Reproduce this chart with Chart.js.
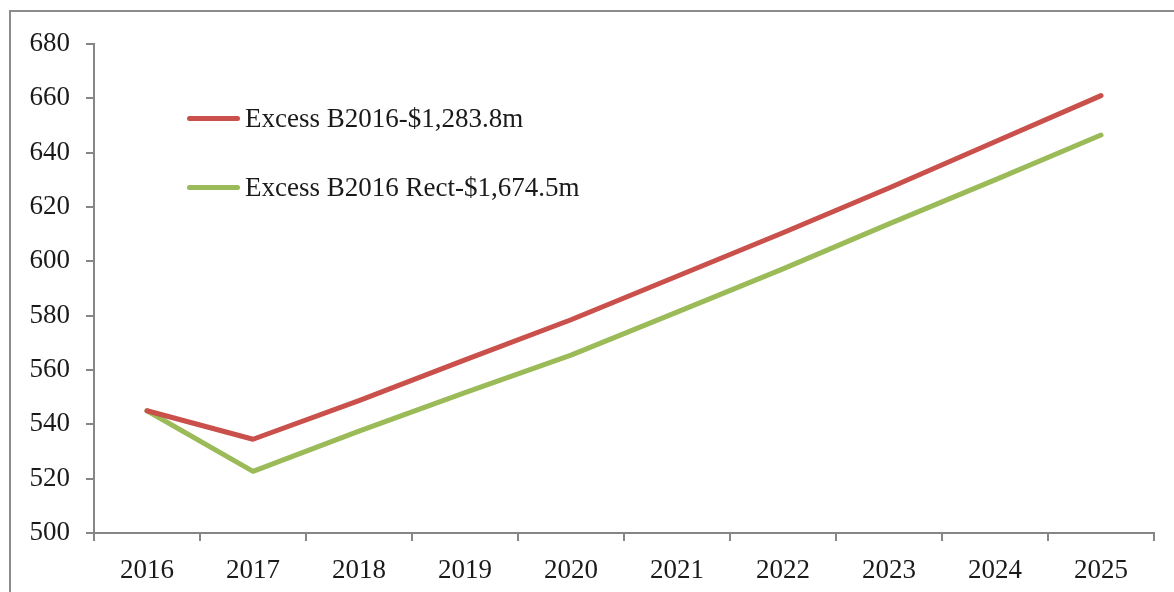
<!DOCTYPE html>
<html>
<head>
<meta charset="utf-8">
<script src="https://cdn.jsdelivr.net/npm/chart.js@4/dist/chart.umd.min.js"></script>
<style>
  html, body { margin:0; padding:0; background:#fff; }
  body { width:1174px; height:592px; position:relative; overflow:hidden; font-family:"Liberation Serif", serif; }
  .frame { position:absolute; left:9px; top:10px; width:1200px; height:620px; border-left:2px solid #8c8c8c; border-top:2px solid #8c8c8c; }
  .chart-wrap { position:absolute; left:0; top:0; width:1174px; height:592px; }
  .legend { position:absolute; left:187px; top:0; }
  .legend-item { position:absolute; left:0; display:flex; align-items:center; white-space:nowrap; font-size:27px; color:#1a1a1a; }
  .legend-item .swatch { width:53px; height:5px; border-radius:3px; margin-right:5px; }
</style>
</head>
<body>
<div class="frame"></div>
<div class="chart-wrap"><canvas id="lineChart"></canvas></div>
<div class="legend" id="legend"></div>
<script>
"use strict";

// ─── Data ──────────────────────────────────────────────────
const years = ["2016","2017","2018","2019","2020","2021","2022","2023","2024","2025"];
const excessB2016     = [545, 534.5, 548.7, 563.7, 578.5, 594.5, 610.5, 627, 644, 661];
const excessB2016Rect = [545, 522.7, 537.5, 551.7, 565.5, 581.3, 597.2, 613.8, 630, 646.5];
const seriesLabels = ["Excess B2016-$1,283.8m", "Excess B2016 Rect-$1,674.5m"];

// ─── Palette ───────────────────────────────────────────────
const COLORS = { red:"#c9504b", green:"#9bbb59", axis:"#868686", text:"#1a1a1a" };
const FONT = { family:"'Liberation Serif', serif", size:27 };

const datasets = [
  { label:seriesLabels[0], data:excessB2016,     borderColor:COLORS.red },
  { label:seriesLabels[1], data:excessB2016Rect, borderColor:COLORS.green },
].map(d => Object.assign(d, {
  borderWidth:5, pointRadius:0, tension:0, fill:false,
  borderCapStyle:"round", borderJoinStyle:"round",
}));

const chart = new Chart(document.getElementById("lineChart"), {
  type: "line",
  data: { labels: years, datasets },
  options: {
    responsive: true,
    maintainAspectRatio: false,
    animation: false,
    layout: { padding: { top:44, right:20, bottom:0, left:0 } },
    scales: {
      x: {
        offset: true,
        grid: { offset:true, drawOnChartArea:false, drawTicks:true, tickLength:8, color:COLORS.axis, lineWidth:2 },
        border: { color:COLORS.axis, width:2 },
        ticks: { font:FONT, color:COLORS.text, padding:14, maxRotation:0 },
        afterFit: s => { s.height = 59; },
      },
      y: {
        min: 500, max: 680,
        grid: { drawOnChartArea:false, drawTicks:true, tickLength:8, color:COLORS.axis, lineWidth:2 },
        border: { color:COLORS.axis, width:2 },
        ticks: { stepSize:20, font:FONT, color:COLORS.text, padding:16 },
        afterFit: s => { s.width = 94; },
      },
    },
    plugins: { legend:{ display:false }, tooltip:{ enabled:false } },
  },
});

// ─── Legend (inside plot) ──────────────────────────────────
const legend = document.getElementById("legend");
const legendTops = [103, 172];
chart.data.datasets.forEach((ds, i) => {
  const item = document.createElement("div");
  item.className = "legend-item";
  item.style.top = legendTops[i] + "px";
  const sw = document.createElement("span");
  sw.className = "swatch";
  sw.style.background = ds.borderColor;
  const txt = document.createElement("span");
  txt.textContent = ds.label;
  item.appendChild(sw);
  item.appendChild(txt);
  legend.appendChild(item);
});
</script>
</body>
</html>
